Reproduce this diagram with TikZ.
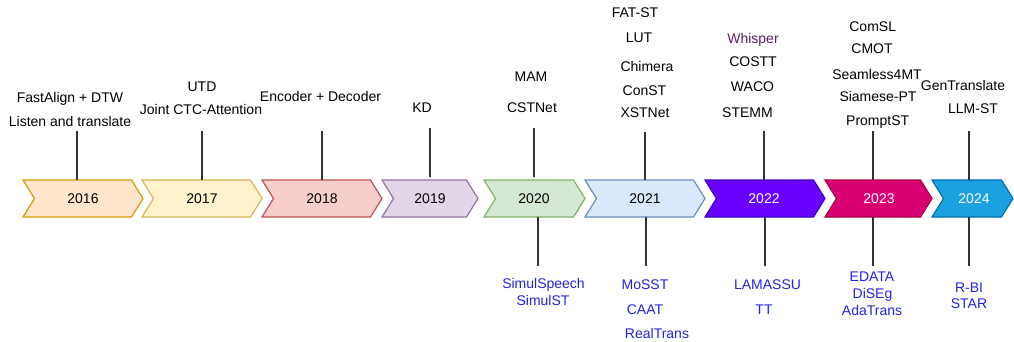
\documentclass[tikz,border=0pt]{standalone}
\usepackage{fontspec}
\setmainfont{Liberation Sans}
\definecolor{bluetxt}{HTML}{2222E0}
\definecolor{whisper}{HTML}{5A1E66}
\definecolor{linegray}{HTML}{333333}
\definecolor{f16}{HTML}{FFE6CC}\definecolor{s16}{HTML}{D79B00}
\definecolor{f17}{HTML}{FFF2CC}\definecolor{s17}{HTML}{D6B656}
\definecolor{f18}{HTML}{F8CECC}\definecolor{s18}{HTML}{B85450}
\definecolor{f19}{HTML}{E1D5E7}\definecolor{s19}{HTML}{9673A6}
\definecolor{f20}{HTML}{D5E8D4}\definecolor{s20}{HTML}{82B366}
\definecolor{f21}{HTML}{DAE8FC}\definecolor{s21}{HTML}{6C8EBF}
\definecolor{f22}{HTML}{6A00FF}\definecolor{s22}{HTML}{3700CC}
\definecolor{f23}{HTML}{D80073}\definecolor{s23}{HTML}{A50040}
\definecolor{f24}{HTML}{1BA1E2}\definecolor{s24}{HTML}{006EAF}
\newcommand\mychevron[4]{%
  \draw[chev, fill=#3, draw=#4] (#1,180) -- ({#2-11.5},180) -- (#2,198.5) -- ({#2-11.5},217) -- (#1,217) -- ({#1+11.5},198.5) -- cycle;}
\begin{document}
\begin{tikzpicture}[x=1pt,y=-1pt,
  every node/.style={font=\fontsize{14}{16}\selectfont, inner sep=0pt},
  txt/.style={anchor=base, text=black},
  blu/.style={anchor=base, text=bluetxt},
  yr/.style={anchor=base, text=black},
  yrw/.style={anchor=base, text=white},
  tick/.style={draw=linegray, line width=1.3pt},
  chev/.style={line width=1.2pt, line join=miter}]
\useasboundingbox (0,0) rectangle (1014,341);
% chevrons
\mychevron{23}{143}{f16}{s16}
\mychevron{142}{262}{f17}{s17}
\mychevron{262}{382}{f18}{s18}
\mychevron{382}{478}{f19}{s19}
\mychevron{484}{585}{f20}{s20}
\mychevron{585}{705}{f21}{s21}
\mychevron{705}{825}{f22}{s22}
\mychevron{825}{932}{f23}{s23}
\mychevron{932}{1013}{f24}{s24}
% year labels
\node[yr] (y2016) at (83,203.5) {2016};
\node[yr] (y2017) at (202,203.5) {2017};
\node[yr] (y2018) at (322,203.5) {2018};
\node[yr] (y2019) at (430,203.5) {2019};
\node[yr] (y2020) at (534,203.5) {2020};
\node[yr] (y2021) at (645,203.5) {2021};
\node[yrw] (y2022) at (764,203.5) {2022};
\node[yrw] (y2023) at (879,203.5) {2023};
\node[yrw] (y2024) at (974,203.5) {2024};
% top ticks
\coordinate (ta16) at (77,131);  \coordinate (tb16) at (77,180);
\coordinate (ta17) at (202,131); \coordinate (tb17) at (202,180);
\coordinate (ta18) at (322,131); \coordinate (tb18) at (322,180);
\coordinate (ta19) at (430,128); \coordinate (tb19) at (430,177);
\coordinate (ta20) at (534,128); \coordinate (tb20) at (534,177);
\coordinate (ta21) at (645,132); \coordinate (tb21) at (645,180);
\coordinate (ta22) at (764,131); \coordinate (tb22) at (764,180);
\coordinate (ta23) at (873,131); \coordinate (tb23) at (873,180);
\coordinate (ta24) at (969,131); \coordinate (tb24) at (969,180);
\foreach \n in {16,17,18,19,20,21,22,23,24} {\draw[tick] (ta\n) -- (tb\n);}
% bottom ticks
\coordinate (ba20) at (538,217); \coordinate (bb20) at (538,266);
\coordinate (ba21) at (646,217); \coordinate (bb21) at (646,266);
\coordinate (ba22) at (765,217); \coordinate (bb22) at (765,266);
\coordinate (ba23) at (873,217); \coordinate (bb23) at (873,266);
\coordinate (ba24) at (969,217); \coordinate (bb24) at (969,266);
\foreach \n in {20,21,22,23,24} {\draw[tick] (ba\n) -- (bb\n);}
% top labels
\node[txt] (fastalign) at (70,102) {FastAlign + DTW};
\node[txt] (listen) at (70,126) {Listen and translate};
\node[txt] (utd) at (202,91) {UTD};
\node[txt] (jointctc) at (201,114) {Joint CTC-Attention};
\node[txt] (encdec) at (320.5,101.5) {Encoder + Decoder};
\node[txt] (kd) at (422,112) {KD};
\node[txt] (mam) at (531,81) {MAM};
\node[txt] (cstnet) at (532,112) {CSTNet};
\node[txt] (fatst) at (635,17) {FAT-ST};
\node[txt] (lut) at (639,42) {LUT};
\node[txt] (chimera) at (647,71) {Chimera};
\node[txt] (const) at (644.5,95) {ConST};
\node[txt] (xstnet) at (645,117) {XSTNet};
\node[anchor=base, text=whisper] (whisper) at (753,43) {Whisper};
\node[txt] (costt) at (753,66) {COSTT};
\node[txt] (waco) at (752.5,91) {WACO};
\node[txt] (stemm) at (747.5,117) {STEMM};
\node[txt] (comsl) at (872.7,31) {ComSL};
\node[txt] (cmot) at (872,53) {CMOT};
\node[txt] (seamless) at (877,79) {Seamless4MT};
\node[txt] (siamese) at (878,101) {Siamese-PT};
\node[txt] (promptst) at (877.7,125) {PromptST};
\node[txt] (gentrans) at (963,90) {GenTranslate};
\node[txt] (llmst) at (973,113) {LLM-ST};
% bottom labels
\node[blu] (simulspeech) at (543.5,288) {SimulSpeech};
\node[blu] (simulst) at (543,305) {SimulST};
\node[blu] (mosst) at (645,289) {MoSST};
\node[blu] (caat) at (645,314) {CAAT};
\node[blu] (realtrans) at (657,338) {RealTrans};
\node[blu] (lamassu) at (767.5,289) {LAMASSU};
\node[blu] (tt) at (764,314) {TT};
\node[blu] (edata) at (872,281) {EDATA};
\node[blu] (diseg) at (872.5,298.5) {DiSEg};
\node[blu] (adatrans) at (872,315) {AdaTrans};
\node[blu] (rbi) at (969,292) {R-BI};
\node[blu] (star) at (969,308) {STAR};
\end{tikzpicture}
\end{document}
